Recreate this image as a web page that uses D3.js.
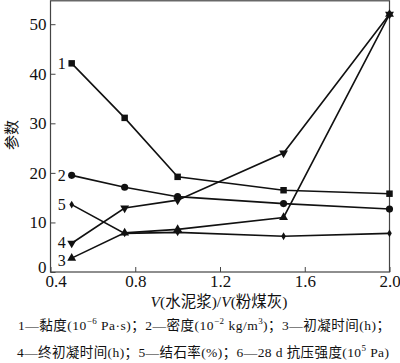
<!DOCTYPE html>
<html>
<head>
<meta charset="utf-8">
<script src="https://cdn.jsdelivr.net/npm/d3@7"></script>
<style>
  body { margin: 0; background: #fff; }
  text { font-family: "Liberation Serif", "Noto Sans CJK SC", serif; fill: #111; }
</style>
</head>
<body>
<div id="chart"></div>
<script>
// data
const ratios = [0.5, 0.75, 1.0, 1.5, 2.0]
const s1 = [42.1, 31.1, 19.2, 16.5, 15.8]   // viscosity
const s2 = [19.5, 17.1, 15.2, 13.8, 12.7]   // density
const s3 = [2.8, 7.9, 8.6, 11.0, 52.0]      // initial set time
const s4 = [5.8, 12.9, 14.5, 24.0, 52.0]    // final set time
const s5 = [13.6, 7.8, 8.0, 7.2, 7.8]       // stone rate
const seriesNames = ["1", "2", "3", "4", "5"]
const markers = ["square", "circle", "triangleUp", "triangleDown", "diamond"]
const xTicks = [0.4, 0.8, 1.2, 1.6, 2.0]
const yTicks = [0, 10, 20, 30, 40, 50]

const width = 400
const height = 363
const serif = "'Liberation Serif', 'Noto Sans CJK SC', serif"

const svg = d3.select("#chart")
  .append("svg")
    .attr("width", width)
    .attr("height", height)

const x = d3.scaleLinear().domain([0.4, 2.0]).range([50.5, 389.5])
const y = d3.scaleLinear().domain([0, 50]).range([272, 24.2])
const frameTop = 0.8

// frame
svg.append("rect")
  .attr("x", x(0.4)).attr("y", frameTop)
  .attr("width", x(2.0) - x(0.4)).attr("height", y(0) - frameTop)
  .attr("fill", "none").attr("stroke", "#444").attr("stroke-width", 1.2)

// axes, ticks pointing in
const xAxis = svg.append("g")
  .attr("transform", `translate(0,${y(0)})`)
  .call(d3.axisBottom(x).tickValues(xTicks).tickSizeInner(-5).tickSizeOuter(0).tickPadding(3).tickFormat(d3.format(".1f")))
xAxis.attr("font-family", serif)
xAxis.select(".domain").remove()
xAxis.selectAll("line").attr("stroke", "#444")
xAxis.selectAll("text").attr("font-size", 17).attr("fill", "#111").attr("font-family", serif)
  .attr("dx", d => d == 0.4 ? 5 : 0)

const yAxis = svg.append("g")
  .attr("transform", `translate(${x(0.4)},0)`)
  .call(d3.axisLeft(y).tickValues(yTicks).tickSizeInner(-5).tickSizeOuter(0).tickPadding(4))
yAxis.attr("font-family", serif)
yAxis.select(".domain").remove()
yAxis.selectAll("line").attr("stroke", "#444")
yAxis.selectAll("text").attr("font-size", 17).attr("fill", "#111").attr("font-family", serif)
  .attr("y", d => d == 0 ? -5 : 0)

// axis titles
svg.append("text")
  .attr("transform", `translate(12,135) rotate(-90)`)
  .attr("text-anchor", "middle")
  .attr("dy", "0.35em")
  .attr("font-size", 15)
  .text("参数")

const xt = svg.append("text")
  .attr("x", 219).attr("y", 307)
  .attr("text-anchor", "middle")
  .attr("font-size", 15.5)
xt.append("tspan").attr("font-style", "italic").text("V")
xt.append("tspan").text("(水泥浆)/")
xt.append("tspan").attr("font-style", "italic").text("V")
xt.append("tspan").text("(粉煤灰)")

// lines
const allSeries = [s1, s2, s3, s4, s5]
const line = d3.line()
  .x((d, i) => x(ratios[i]))
  .y(d => y(d))

const symbolFor = {
  square: d3.symbol().type(d3.symbolSquare).size(42),
  circle: d3.symbol().type(d3.symbolCircle).size(40),
  triangleUp: d3.symbol().type(d3.symbolTriangle).size(34),
  triangleDown: d3.symbol().type(d3.symbolTriangle).size(34),
  diamond: d3.symbol().type(d3.symbolDiamond).size(18)
}

allSeries.forEach((vals, k) => {
  svg.append("path")
    .datum(vals)
    .attr("d", line)
    .attr("fill", "none")
    .attr("stroke", "#111")
    .attr("stroke-width", 1.6)

  svg.append("g")
    .selectAll("path")
    .data(vals)
    .join("path")
      .attr("d", symbolFor[markers[k]]())
      .attr("transform", (d, i) => `translate(${x(ratios[i])},${y(d)})` + (markers[k] == "triangleDown" ? " rotate(180)" : ""))
      .attr("fill", "#111")
})

// series numbers, left of the first point
const labelOffsets = [0, 0, 2, -1, 0]
svg.append("g")
  .selectAll("text")
  .data(allSeries)
  .join("text")
    .attr("x", x(ratios[0]) - 6)
    .attr("y", (d, k) => y(d[0]) + labelOffsets[k])
    .attr("dy", "0.35em")
    .attr("text-anchor", "end")
    .attr("font-size", 16)
    .text((d, k) => seriesNames[k])

// legend notes
const note1 = svg.append("text").attr("x", 18).attr("y", 330).attr("font-size", 13.5)
  .attr("textLength", 372).attr("lengthAdjust", "spacing")
note1.append("tspan").text("1—黏度(10")
note1.append("tspan").attr("dy", -6).attr("font-size", 9).text("−6")
note1.append("tspan").attr("dy", 6).text(" Pa·s)；2—密度(10")
note1.append("tspan").attr("dy", -6).attr("font-size", 9).text("−2")
note1.append("tspan").attr("dy", 6).text(" kg/m")
note1.append("tspan").attr("dy", -6).attr("font-size", 9).text("3")
note1.append("tspan").attr("dy", 6).text(")；3—初凝时间(h)；")

const note2 = svg.append("text").attr("x", 17).attr("y", 357).attr("font-size", 13.5)
  .attr("textLength", 372).attr("lengthAdjust", "spacing")
note2.append("tspan").text("4—终初凝时间(h)；5—结石率(%)；6—28 d 抗压强度(10")
note2.append("tspan").attr("dy", -6).attr("font-size", 9).text("5")
note2.append("tspan").attr("dy", 6).text(" Pa)")
</script>
</body>
</html>
